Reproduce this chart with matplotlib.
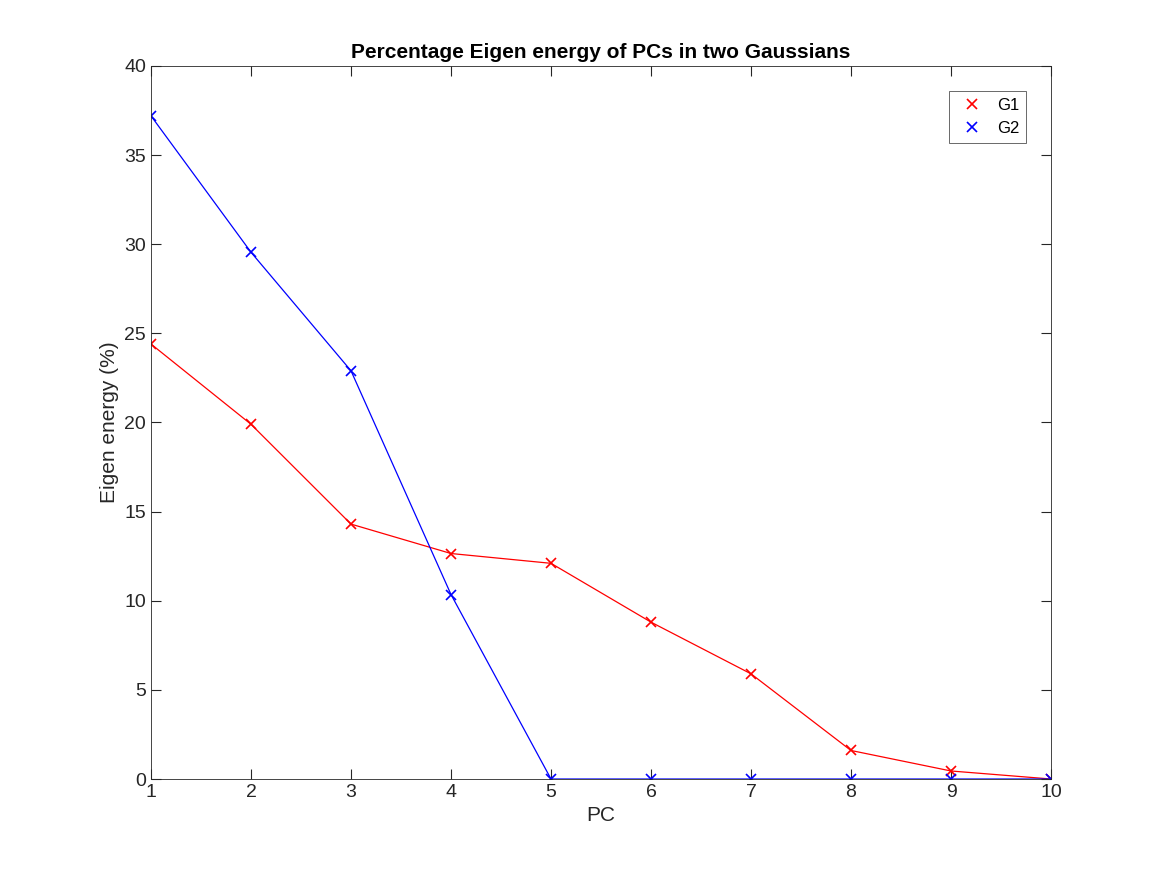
import matplotlib.pyplot as plt
from matplotlib.lines import Line2D

pc = [1, 2, 3, 4, 5, 6, 7, 8, 9, 10]
g1 = [24.4, 19.9, 14.3, 12.65, 12.1, 8.8, 5.9, 1.6, 0.45, 0.0]
g2 = [37.2, 29.55, 22.9, 10.35, 0.0, 0.0, 0.0, 0.0, 0.0, 0.0]

plt.rcParams['font.family'] = ['Liberation Sans', 'DejaVu Sans']
fig = plt.figure(figsize=(11.67, 8.75), dpi=100)
ax = fig.add_axes([0.1294, 0.1097, 0.7712, 0.8149])

ax.plot(pc, g1, color='red', lw=0.9, marker='x', ms=7, mew=1.2)
ax.plot(pc, g2, color='blue', lw=0.9, marker='x', ms=7, mew=1.2)

ax.set_xlim(1, 10)
ax.set_ylim(0, 40)
ax.set_xticks(range(1, 11))
ax.set_yticks(range(0, 41, 5))
ax.tick_params(direction='in', top=True, right=True, labelsize=14, colors='#262626', length=7)
for s in ax.spines.values():
    s.set_linewidth(0.6)
    s.set_color('#262626')

ax.set_xlabel('PC', fontsize=15, color='#262626')
ax.set_ylabel('Eigen energy (%)', fontsize=15, color='#262626')
ax.set_title('Percentage Eigen energy of PCs in two Gaussians', fontsize=15, fontweight='bold')

handles = [Line2D([], [], color='red', marker='x', ls='none', ms=7, mew=1.2),
           Line2D([], [], color='blue', marker='x', ls='none', ms=7, mew=1.2)]
leg = ax.legend(handles, ['G1', 'G2'], loc='upper right', fontsize=12, fancybox=False,
                edgecolor='#262626', borderaxespad=1.5, handletextpad=0.5)
leg.get_frame().set_linewidth(0.6)

fig.savefig('out.png', dpi=100, facecolor='white')
